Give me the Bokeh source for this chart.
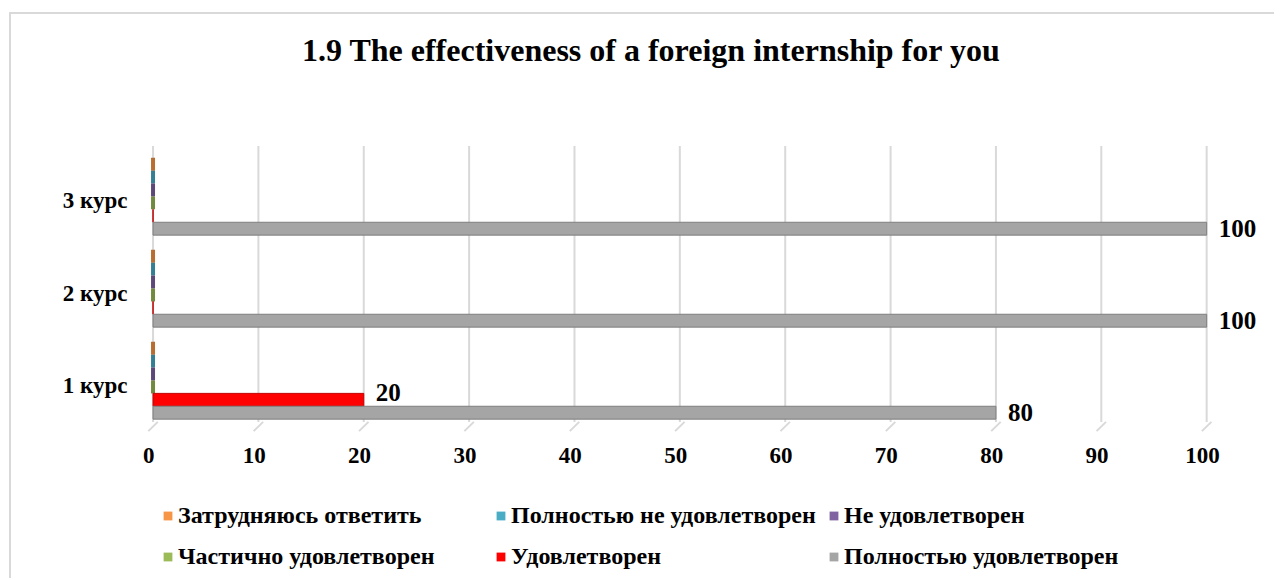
from bokeh.plotting import figure
from bokeh.models import (ColumnDataSource, Range1d, FixedTicker, Legend, LegendItem,
                          LabelSet, Label, LinearAxis)
from bokeh.transform import dodge
from bokeh.embed import file_html
from bokeh.resources import INLINE

courses = ["1 курс", "2 курс", "3 курс"]
series_names = ["Затрудняюсь ответить", "Полностью не удовлетворен", "Не удовлетворен",
                "Частично удовлетворен", "Удовлетворен", "Полностью удовлетворен"]
zatrudnyayus = [0, 0, 0]
polnostyu_ne = [0, 0, 0]
ne_udovletvoren = [0, 0, 0]
chastichno = [0, 0, 0]
udovletvoren = [20, 0, 0]
polnostyu_udov = [80, 100, 100]
x_ticks = [0, 10, 20, 30, 40, 50, 60, 70, 80, 90, 100]
title_text = "1.9 The effectiveness of a foreign internship for you"

series_values = [zatrudnyayus, polnostyu_ne, ne_udovletvoren, chastichno, udovletvoren, polnostyu_udov]
colors = ["#F79646", "#4BACC6", "#8064A2", "#9BBB59", "#FF0000", "#A5A5A5"]
edge_colors = ["#B86E30", "#357F93", "#5D4978", "#728A40", "#C00000", "#7F7F7F"]
line_widths = [4, 4, 4, 4, 1, 1]
offsets = [0.35, 0.21, 0.07, -0.07, -0.21, -0.35]
bar_h = 0.14

FONT = "Liberation Serif"

course_pos = list(range(len(courses)))
band_lo, band_hi = course_pos[0] - 0.5, course_pos[-1] + 0.5

X0, X1 = -1.0, 105.3
Y0, Y1 = -2.152, 3.978

p = figure(title=None, x_range=Range1d(X0, X1), y_range=Range1d(Y0, Y1),
           frame_width=1120, frame_height=564, x_axis_location=None, y_axis_location=None,
           min_border_left=131, min_border_right=12, min_border_top=0, min_border_bottom=0,
           output_backend="svg", toolbar_location=None)
p.outline_line_color = None
p.background_fill_color = "white"
p.border_fill_color = "white"
p.xgrid.visible = False
p.ygrid.visible = False

# grid lines with a 3D "floor" edge
p.segment(x0=x_ticks, x1=x_ticks, y0=band_lo + 0.05, y1=band_hi + 0.05,
          line_color="#D9D9D9", line_width=2)
p.segment(x0=[t + 0.45 for t in x_ticks], x1=[t - 0.45 for t in x_ticks],
          y0=band_lo + 0.05, y1=band_lo - 0.05, line_color="#D9D9D9", line_width=2)

src = ColumnDataSource(dict(pos=course_pos, course=courses,
                            **{f"s{i}": v for i, v in enumerate(series_values)}))

renderers = []
for i, name in enumerate(series_names):
    r = p.hbar(y=dodge("pos", offsets[i]), right=f"s{i}", left=0,
               height=bar_h, source=src, fill_color=colors[i], line_color=None)
    renderers.append(r)
    # bar edges (also makes the zero-value bars visible as thin slivers)
    p.hbar(y=dodge("pos", offsets[i]), right=f"s{i}", left=0,
           height=bar_h, source=src, fill_color=None, line_color=edge_colors[i],
           line_width=line_widths[i])

# data labels (non-zero values only)
for i in (4, 5):
    vals = series_values[i]
    idx = [k for k, v in enumerate(vals) if v != 0]
    ls = ColumnDataSource(dict(pos=[course_pos[k] for k in idx], val=[vals[k] for k in idx],
                               txt=[str(vals[k]) for k in idx]))
    lab = LabelSet(x="val", y=dodge("pos", offsets[i]), text="txt", source=ls,
                   x_offset=12, y_offset=7 if i == 4 else 0, text_baseline="middle",
                   text_font=FONT, text_font_style="bold", text_font_size="25px",
                   text_color="black")
    p.add_layout(lab)

# x axis (labels sit on the front edge of the 3D floor)
p.extra_x_ranges = {"ticks": Range1d(X0 + 0.4, X1 + 0.4)}
xax = LinearAxis(x_range_name="ticks", fixed_location=band_lo - 0.05,
                 ticker=FixedTicker(ticks=x_ticks))
xax.axis_line_color = None
xax.major_tick_line_color = None
xax.minor_tick_line_color = None
xax.major_label_standoff = 11
xax.major_label_text_font = FONT
xax.major_label_text_font_style = "bold"
xax.major_label_text_font_size = "23px"
xax.major_label_text_color = "black"
p.add_layout(xax, "below")

# y axis with course names
p.extra_y_ranges = {"cats": Range1d(Y0 + 0.049, Y1 + 0.049)}
yax = LinearAxis(y_range_name="cats", ticker=FixedTicker(ticks=course_pos),
                 major_label_overrides={k: c for k, c in zip(course_pos, courses)})
yax.axis_line_color = None
yax.major_tick_line_color = None
yax.minor_tick_line_color = None
yax.major_label_standoff = 9
yax.major_label_text_font = FONT
yax.major_label_text_font_style = "bold"
yax.major_label_text_font_size = "23px"
yax.major_label_text_color = "black"
p.add_layout(yax, "left")

# title
p.add_layout(Label(x=47.3, y=3.59, text=title_text, text_align="center",
                   text_baseline="middle", text_font=FONT, text_font_style="bold",
                   text_font_size="32px", text_color="black"))

legend = Legend(items=[LegendItem(label=n, renderers=[r]) for n, r in zip(series_names, renderers)],
                location=(20, 7), orientation="horizontal", ncols=3,
                glyph_width=11, glyph_height=11, label_width=306, label_height=30,
                label_standoff=5, spacing=11, padding=0, margin=0,
                border_line_color=None, background_fill_alpha=0,
                label_text_font=FONT, label_text_font_style="bold", label_text_font_size="24px",
                label_text_color="black")
p.add_layout(legend, "center")

p.styles = {"margin-left": "9px", "margin-top": "12px",
            "border-top": "2px solid #D9D9D9", "border-left": "2px solid #D9D9D9"}

open("out.html", "w").write(file_html(p, INLINE))
